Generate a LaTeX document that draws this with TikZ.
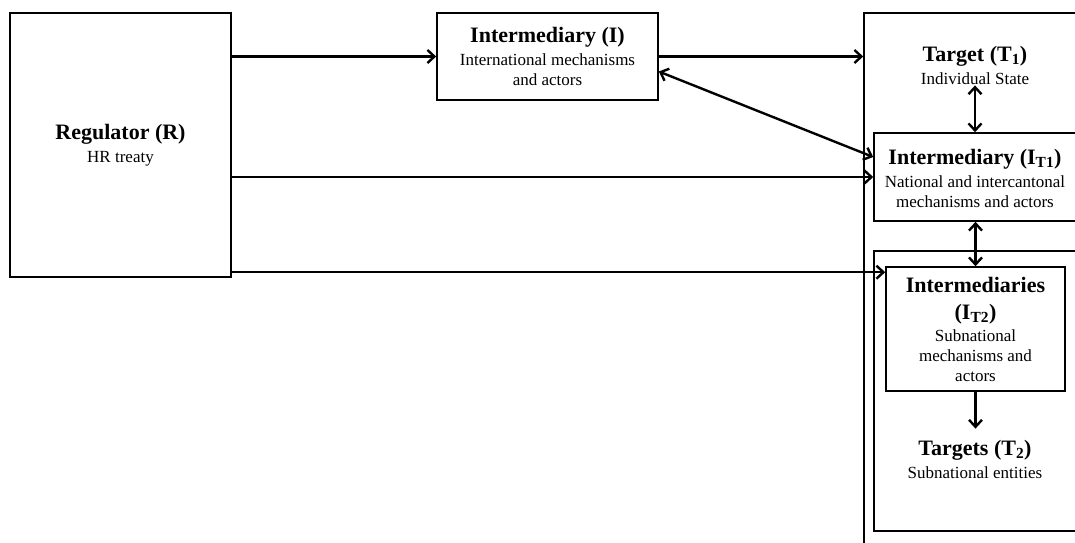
\documentclass[tikz,border=0pt]{standalone}
\usepackage{fontspec}
\setmainfont{Liberation Serif}
\usetikzlibrary{arrows.meta,calc}
\newcommand\ttl[1]{{\fontsize{22}{24}\selectfont\bfseries #1}\\[3pt]}
\begin{document}
\begin{tikzpicture}[x=1pt,y=-1pt,
  box/.style={draw,line width=1.6pt,inner sep=0pt},
  lbl/.style={align=center,font=\fontsize{17}{20}\selectfont,inner sep=1pt},
  tip/.tip={Straight Barb[length=7pt,width=13pt,line width=2.4pt]},
  conn/.style={line width=2.4pt,-tip},
  dconn/.style={line width=2.4pt,tip-tip}]
\useasboundingbox (0,0) rectangle (1075,542);
\clip (0,0) rectangle (1075,542);

% regulator and international intermediary
\node[box,lbl,minimum width=221pt,minimum height=264pt] (R) at (120.5,145)
  {\ttl{Regulator (R)}HR treaty};
\node[box,lbl,minimum width=221pt,minimum height=87pt] (I) at (547.5,56.5)
  {\ttl{Intermediary (I)}International mechanisms\\and actors};

% state level frame
\node[box,minimum width=226pt,minimum height=547pt] (T1box) at (977,286.5) {};
\node[lbl] (T1lab) at (975,65) {\ttl{Target (T\textsubscript{1})}Individual State};
\node[box,fill=white,minimum width=216pt,minimum height=88pt] (IT1) at (982,177) {};
\node[lbl] (IT1lab) at (975,178)
  {\ttl{Intermediary (I\textsubscript{T1})}National and intercantonal\\mechanisms and actors};

% subnational frame
\node[box,minimum width=216pt,minimum height=280pt] (T2box) at (982,391) {};
\node[box,lbl,fill=white,minimum width=179pt,minimum height=124pt] (IT2) at (975.5,329)
  {{\fontsize{22}{24}\selectfont\bfseries Intermediaries}\\[7pt]
   {\fontsize{22}{24}\selectfont\bfseries (I\textsubscript{T2})}\\[2pt]
   Subnational\\mechanisms and\\actors};
\node[lbl] (T2lab) at (975,459) {\ttl{Targets (T\textsubscript{2})}Subnational entities};
\coordinate (IT2in) at ([yshift=-6pt]IT2.north west);

% connectors
\draw[conn] (R.east |- I.west) -- (I.west);
\draw[conn] (I.east) -- (I.east -| T1box.west);
\draw[dconn] ([yshift=-15pt]I.east) -- ([yshift=20pt]IT1.west);
\draw[conn] (R.east |- IT1.west) -- (IT1.west);
\draw[conn] (R.east |- IT2in) -- (IT2in);
\draw[dconn] (T1lab.south) -- (T1lab.south |- IT1.north);
\draw[dconn] (IT2.north |- IT1.south) -- (IT2.north);
\draw[conn,shorten >=10pt] (IT2.south) -- (IT2.south |- T2lab.north);
\end{tikzpicture}
\end{document}
